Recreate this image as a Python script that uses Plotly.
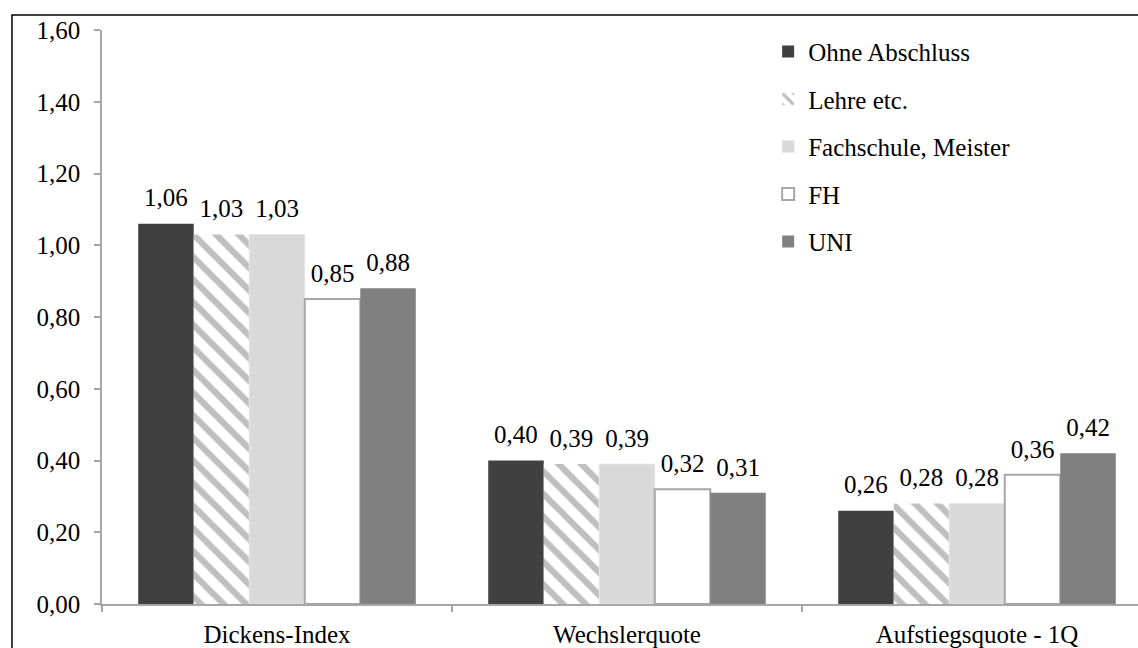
import plotly.graph_objects as go

# Kennzahlen nach Bildungsabschluss
categories = ["Dickens-Index", "Wechslerquote", "Aufstiegsquote - 1Q"]
series_names = ["Ohne Abschluss", "Lehre etc.", "Fachschule, Meister", "FH", "UNI"]
ohne_abschluss = [1.06, 0.40, 0.26]
lehre = [1.03, 0.39, 0.28]
fachschule = [1.03, 0.39, 0.28]
fh = [0.85, 0.32, 0.36]
uni = [0.88, 0.31, 0.42]
y_ticks = [0.0, 0.2, 0.4, 0.6, 0.8, 1.0, 1.2, 1.4, 1.6]

FONT = "Liberation Serif"
FONT_SIZE = 25
AXIS_GRAY = "#a6a6a6"


def fmt(v):
    return f"{v:.2f}".replace(".", ",")


styles = [
    dict(marker=dict(color="#404040", line=dict(width=0))),
    dict(marker=dict(color="white", line=dict(width=0),
                     pattern=dict(shape="\\", fgcolor="#bfbfbf", bgcolor="white",
                                  size=16, solidity=0.4, fillmode="replace"))),
    dict(marker=dict(color="#d9d9d9", line=dict(color="#e6e6e6", width=1))),
    dict(marker=dict(color="white", line=dict(color="#a6a6a6", width=2))),
    dict(marker=dict(color="#808080", line=dict(width=0))),
]

all_values = [ohne_abschluss, lehre, fachschule, fh, uni]

fig = go.Figure()
for i, (name, vals) in enumerate(zip(series_names, all_values)):
    fig.add_trace(go.Bar(
        x=categories, y=vals, name=name,
        legendgroup=f"g{i}",
        **styles[i],
    ))

# Wertebeschriftungen über den Säulen (gleiche Gruppierung wie die Säulen)
for i, vals in enumerate(all_values):
    fig.add_trace(go.Scatter(
        x=categories, y=vals, mode="markers+text",
        text=[fmt(v) for v in vals], textposition="top center",
        textfont=dict(family=FONT, size=FONT_SIZE, color="black"),
        marker=dict(size=16, opacity=0),
        cliponaxis=False, showlegend=False, hoverinfo="skip",
    ))

# Rahmen um das gesamte Diagramm
fig.add_shape(type="rect", xref="paper", yref="paper",
              x0=-0.0869, x1=1.05, y0=-0.2, y1=1.026,
              line=dict(color="black", width=1.5), fillcolor="rgba(0,0,0,0)", layer="above")

fig.update_layout(
    width=1138, height=648,
    margin=dict(l=102, r=0, t=30, b=41),
    paper_bgcolor="white", plot_bgcolor="white",
    font=dict(family=FONT, size=FONT_SIZE, color="black"),
    barmode="group", bargap=0.207, bargroupgap=0,
    scattermode="group", scattergap=0.207,
    showlegend=True,
    legend=dict(x=0.643, y=1.002, xanchor="left", yanchor="top",
                font=dict(family=FONT, size=FONT_SIZE, color="black"),
                tracegroupgap=12, itemwidth=30, bgcolor="rgba(0,0,0,0)"),
    xaxis=dict(range=[-0.5, 2.46], showline=True, linecolor=AXIS_GRAY, linewidth=1.5,
               ticks="outside", tickson="boundaries", ticklen=6, tickcolor=AXIS_GRAY,
               tickwidth=1.5, showgrid=False, zeroline=False, ticklabelstandoff=7),
    yaxis=dict(range=[0, 1.6], tickvals=y_ticks, ticktext=[fmt(v) for v in y_ticks],
               showline=True, linecolor=AXIS_GRAY, linewidth=1.5,
               ticks="outside", ticklen=6, tickcolor=AXIS_GRAY, tickwidth=1.5,
               showgrid=False, zeroline=False, ticklabelstandoff=9),
)

fig.write_html("out.html")
